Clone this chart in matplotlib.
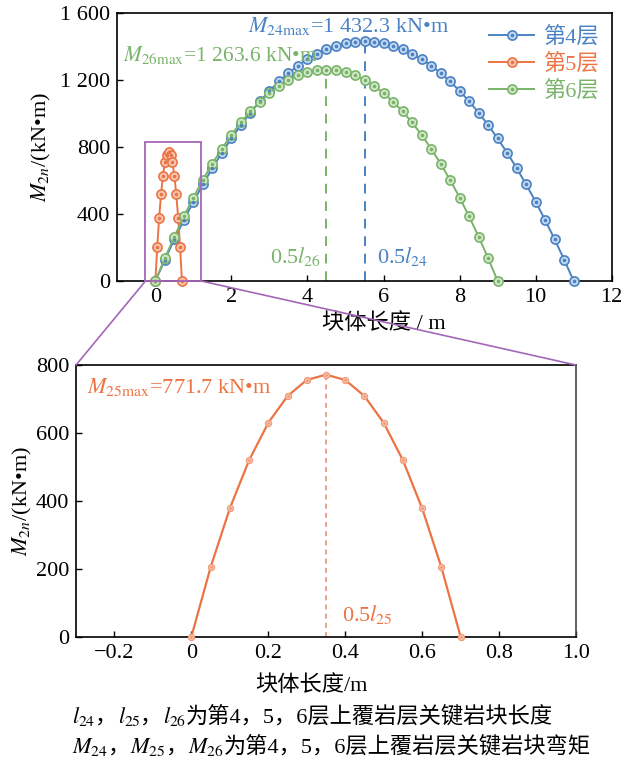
import matplotlib
matplotlib.use('Agg')
import matplotlib.pyplot as plt
from matplotlib.patches import Rectangle, ConnectionPatch
from matplotlib.legend_handler import HandlerTuple

plt.rcParams['font.family'] = ['Liberation Serif', 'Noto Sans CJK SC']
plt.rcParams['mathtext.fontset'] = 'stix'
plt.rcParams['axes.unicode_minus'] = True

# block length (m) and bending moment (kN*m)
x4 = [i * 0.25 for i in range(45)]
m4 = [0, 127.3, 248.6, 364.0, 473.5, 577.1, 674.7, 766.5, 852.3, 932.2,
      1006.2, 1074.2, 1136.4, 1192.6, 1242.9, 1287.3, 1325.8, 1358.3, 1385.0,
      1405.7, 1420.5, 1429.4, 1432.3, 1429.4, 1420.5, 1405.7, 1385.0, 1358.3,
      1325.8, 1287.3, 1242.9, 1192.6, 1136.4, 1074.2, 1006.2, 932.2, 852.3,
      766.5, 674.7, 577.1, 473.5, 364.0, 248.6, 127.3, 0]
x6 = [i * 0.25 for i in range(37)]
m6 = [0, 136.5, 265.2, 386.1, 499.2, 604.5, 702.0, 791.7, 873.6, 947.7,
      1014.0, 1072.5, 1123.2, 1166.1, 1201.2, 1228.5, 1248.0, 1259.7, 1263.6,
      1259.7, 1248.0, 1228.5, 1201.2, 1166.1, 1123.2, 1072.5, 1014.0, 947.7,
      873.6, 791.7, 702.0, 604.5, 499.2, 386.1, 265.2, 136.5, 0]
x5 = [i * 0.05 for i in range(15)]
m5 = [0, 204.7, 378.0, 519.7, 630.0, 708.7, 756.0, 771.7, 756.0, 708.7,
      630.0, 519.7, 378.0, 204.7, 0]

labels = ['第4层', '第5层', '第6层']
top_yticks = [0, 400, 800, 1200, 1600]
top_yticklabels = ['0', '400', '800', '1 200', '1 600']

# caption lines, split so the math parts and the CJK parts use their own fonts
caption1 = [r'$l_{24}$', '，', r'$l_{25}$', '，', r'$l_{26}$', '为第4，5，6层上覆岩层关键岩块长度']
caption2 = [r'$M_{24}$', '，', r'$M_{25}$', '，', r'$M_{26}$', '为第4，5，6层上覆岩层关键岩块弯矩']

blue, orange, green = '#4a82c3', '#ec7444', '#79b36a'
blue_f, orange_f, green_f = '#c4d8ef', '#f8c8b2', '#d3e8c9'
purple = '#a466b8'

fig = plt.figure(figsize=(6.26, 7.61), dpi=100)
ax1 = fig.add_axes([0.1874, 0.6307, 0.7898, 0.3518])
ax2 = fig.add_axes([0.1214, 0.1633, 0.7987, 0.357])

# ---- top panel
handles = []
for xs, ms, c, fc in [(x4, m4, blue, blue_f), (x5, m5, orange, orange_f), (x6, m6, green, green_f)]:
    ln, = ax1.plot(xs, ms, '-o', color=c, lw=1.4, ms=6.6, mfc=fc, mec=c, mew=1.2,
                   clip_on=False, zorder=3)
    dt, = ax1.plot(xs, ms, 'o', color=c, ms=1.6, ls='none', clip_on=False, zorder=4)
    handles.append((ln, dt))

ax1.plot([5.5, 5.5], [0, 1432.3], ls=(0, (5, 4)), color=blue, lw=1.4, zorder=2)
ax1.plot([4.5, 4.5], [0, 1263.6], ls=(0, (5, 4)), color=green, lw=1.4, zorder=2)

ax1.set_xlim(-1, 12)
ax1.set_ylim(0, 1600)
ax1.set_xticks(range(0, 13, 2))
ax1.set_yticks(top_yticks)
ax1.set_yticklabels(top_yticklabels)
ax1.tick_params(direction='in', length=4, width=1, labelsize=16, pad=5)
for s in ax1.spines.values():
    s.set_linewidth(1.2)
ax1.set_xlabel('块体长度 / m', fontsize=16)
ax1.xaxis.set_label_coords(0.54, -0.157)
ax1.xaxis.label.set_verticalalignment('center')
ax1.set_ylabel(r'$M_{2n}$/(kN•m)', fontsize=16, labelpad=5)

ax1.text(2.44, 1527, r'$M_{24\mathrm{max}}$=1 432.3 kN•m', color=blue, fontsize=16,
         ha='left', va='center', zorder=5)
ax1.text(-0.86, 1353, r'$M_{26\mathrm{max}}$=1 263.6 kN•m', color=green, fontsize=15.5,
         ha='left', va='center', zorder=5)
ax1.text(3.02, 146, r'0.5$l_{26}$', color=green, fontsize=16, ha='left', va='center')
ax1.text(5.83, 146, r'0.5$l_{24}$', color=blue, fontsize=16, ha='left', va='center')

leg = ax1.legend(handles, labels, handler_map={tuple: HandlerTuple(ndivide=1, pad=0)},
                 loc='upper right', bbox_to_anchor=(1.0, 1.0), frameon=False,
                 fontsize=16, handlelength=2.0, handletextpad=0.4, labelspacing=0.25,
                 borderaxespad=0.2)
for t, c in zip(leg.get_texts(), [blue, orange, green]):
    t.set_color(c)

rect = Rectangle((-0.26, 0), 1.47, 828, fill=False, ec=purple, lw=1.3,
                 clip_on=False, zorder=5)
ax1.add_patch(rect)

# ---- bottom panel
ax2.plot(x5, m5, '-o', color=orange, lw=1.6, ms=4.4, mfc=orange_f, mec='#f09a78',
         mew=0.9, clip_on=False, zorder=3)
ax2.plot(x5, m5, 'o', color='#f09a78', ms=1.0, ls='none', clip_on=False, zorder=4)
ax2.plot([0.35, 0.35], [0, 771.7], ls=(0, (3, 2.5)), color='#e9936c', lw=1.2, zorder=2)
ax2.set_xlim(-0.3, 1.0)
ax2.set_ylim(0, 800)
ax2.set_xticks([-0.2, 0, 0.2, 0.4, 0.6, 0.8, 1.0])
ax2.set_xticklabels(['\u22120.2', '0', '0.2', '0.4', '0.6', '0.8', '1.0'])
ax2.set_yticks([0, 200, 400, 600, 800])
ax2.tick_params(direction='in', length=4, width=1, labelsize=16, pad=5)
for s in ax2.spines.values():
    s.set_linewidth(1.2)
ax2.spines['right'].set_color('#444444')
ax2.set_xlabel('块体长度/m', fontsize=16)
ax2.xaxis.set_label_coords(0.47, -0.178)
ax2.xaxis.label.set_verticalalignment('center')
ax2.set_ylabel(r'$M_{2n}$/(kN•m)', fontsize=16, labelpad=1)
ax2.text(-0.272, 734, r'$M_{25\mathrm{max}}$=771.7 kN•m', color=orange, fontsize=16,
         ha='left', va='center')
ax2.text(0.391, 64, r'0.5$l_{25}$', color=orange, fontsize=16, ha='left', va='center')

# zoom connector lines
for xa, xb in [(-0.26, 0), (1.21, 1)]:
    con = ConnectionPatch(xyA=(xa, 0), coordsA=ax1.transData,
                          xyB=(xb, 1), coordsB=ax2.transAxes,
                          color=purple, lw=1.2)
    fig.add_artist(con)

# captions: pieces laid out left to right on a common baseline
for pieces, y_base in [(caption1, 1 - 723 / 761), (caption2, 1 - 753 / 761)]:
    prev = fig.text(72 / 626, y_base, pieces[0], fontsize=16, ha='left', va='baseline')
    for p in pieces[1:]:
        prev = fig.add_artist(
            matplotlib.text.Annotation(p, xy=(1, y_base),
                                       xycoords=(prev, 'figure fraction'),
                                       fontsize=16, ha='left', va='baseline'))

fig.savefig('out.png', dpi=100)
